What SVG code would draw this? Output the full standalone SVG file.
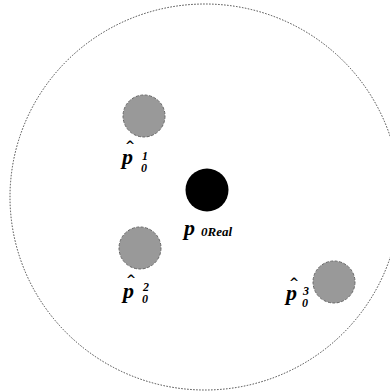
<svg xmlns="http://www.w3.org/2000/svg" width="390" height="392" viewBox="0 0 390 392">
<style>
.bound{fill:none;stroke:#444;stroke-width:1;stroke-dasharray:1.5,1.5}
.est{fill:#999;stroke:#666;stroke-width:1;stroke-dasharray:3,1.5}
.real{fill:#000}
.p{font-family:"Liberation Serif",serif;font-weight:bold;font-style:italic;font-size:22px;fill:#000}
.s{font-family:"Liberation Serif",serif;font-weight:bold;font-style:italic;font-size:12px;fill:#000}
.r{font-family:"Liberation Serif",serif;font-weight:bold;font-style:italic;font-size:13px;fill:#000}
.hat{font-family:"DejaVu Sans",sans-serif;font-weight:bold;font-size:12px;fill:#000}
</style>
<rect width="390" height="392" fill="#fff"/>
<g id="region"><ellipse class="bound" cx="205" cy="197" rx="195" ry="193"/></g>
<g id="connectors"></g>
<g id="p1">
<circle class="est" cx="144" cy="116" r="21"/>
<text class="hat" x="125" y="150">^</text>
<text class="p" x="122" y="164">p</text>
<text class="s" x="142" y="160">1</text>
<text class="s" x="141" y="172">0</text>
</g>
<g id="p0real">
<circle class="real" cx="207" cy="190" r="21.5"/>
<text class="p" x="184" y="235">p</text>
<text class="r" x="201" y="236">0Real</text>
</g>
<g id="p2">
<circle class="est" cx="140" cy="248" r="21"/>
<text class="hat" x="126" y="284">^</text>
<text class="p" x="123" y="298">p</text>
<text class="s" x="143" y="291">2</text>
<text class="s" x="142" y="303">0</text>
</g>
<g id="p3">
<circle class="est" cx="334" cy="282" r="21"/>
<text class="hat" x="289" y="287">^</text>
<text class="p" x="286" y="300">p</text>
<text class="s" x="303" y="295">3</text>
<text class="s" x="302" y="307">0</text>
</g>
</svg>
